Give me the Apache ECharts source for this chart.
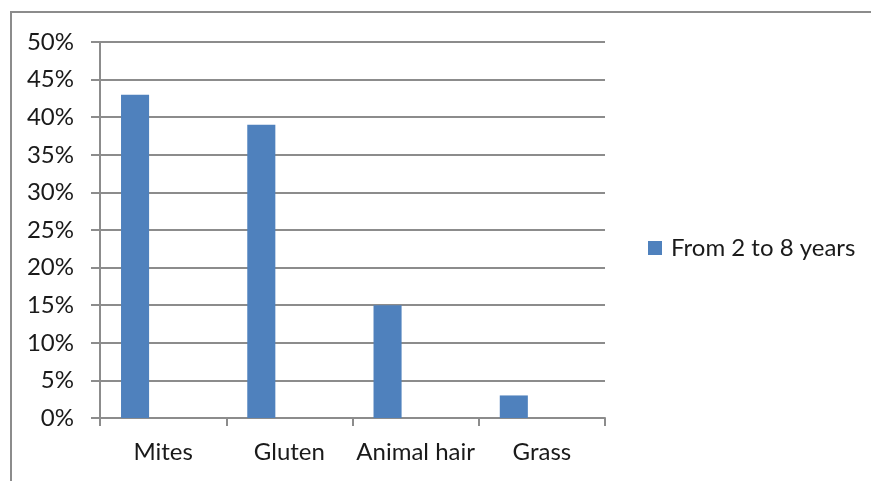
<!DOCTYPE html>
<html>
<head>
<meta charset="utf-8">
<script src="https://cdn.jsdelivr.net/npm/echarts@6/dist/echarts.min.js"></script>
<style>
  html, body { margin: 0; padding: 0; background: #fff; }
  #chart { width: 871px; height: 481px; }
</style>
</head>
<body>
<div id="chart"></div>
<script>
// Allergen categories and the share of children (2–8 years) per allergen, in percent
const categories = ['Mites', 'Gluten', 'Animal hair', 'Grass'];
const seriesName = 'From 2 to 8 years';
const values = [43, 39, 15, 3];
// Two unused series slots keep the bars at the left of each category group
const emptySlot = [null, null, null, null];
const yTicks = { min: 0, max: 50, interval: 5 };

const FONT = 'Lato';
const FONT_SIZE = 24;
const GRID_GREY = '#8c8c8c';
const TEXT = '#1a1a1a';

const chart = echarts.init(document.getElementById('chart'), null, { renderer: 'canvas' });

chart.setOption({
  backgroundColor: '#ffffff',
  animation: false,
  textStyle: { fontFamily: FONT },
  graphic: [
    {
      type: 'polyline',
      shape: { points: [[11, 481], [11, 12], [871, 12]] },
      style: { stroke: GRID_GREY, lineWidth: 2, fill: null }
    }
  ],
  grid: { left: 100, right: 266, top: 42, bottom: 63, containLabel: false },
  legend: {
    data: [seriesName],
    orient: 'vertical',
    left: 648,
    top: 236,
    padding: 0,
    icon: 'rect',
    itemWidth: 14,
    itemHeight: 14,
    textStyle: { fontFamily: FONT, fontSize: FONT_SIZE, color: TEXT, padding: [0, 0, 0, 4] }
  },
  xAxis: {
    type: 'category',
    data: categories,
    boundaryGap: true,
    axisLine: { lineStyle: { color: GRID_GREY, width: 2 } },
    axisTick: { show: true, length: 8, lineStyle: { color: GRID_GREY, width: 2 } },
    axisLabel: { interval: 0, fontFamily: FONT, fontSize: FONT_SIZE, color: TEXT, margin: 22 }
  },
  yAxis: {
    type: 'value',
    min: yTicks.min,
    max: yTicks.max,
    interval: yTicks.interval,
    axisLine: { show: true, lineStyle: { color: GRID_GREY, width: 2 } },
    axisTick: { show: true, length: 9, lineStyle: { color: GRID_GREY, width: 2 } },
    splitLine: { show: true, lineStyle: { color: GRID_GREY, width: 2 } },
    axisLabel: { fontFamily: FONT, fontSize: FONT_SIZE, color: TEXT, margin: 26, formatter: '{value}%' }
  },
  series: [
    {
      name: seriesName,
      type: 'bar',
      data: values,
      itemStyle: { color: '#4f81bd' },
      barGap: '0%',
      barCategoryGap: '33.3%'
    },
    { name: 'slot2', type: 'bar', data: emptySlot, barGap: '0%', barCategoryGap: '33.3%' },
    { name: 'slot3', type: 'bar', data: emptySlot, barGap: '0%', barCategoryGap: '33.3%' }
  ]
});
</script>
</body>
</html>
